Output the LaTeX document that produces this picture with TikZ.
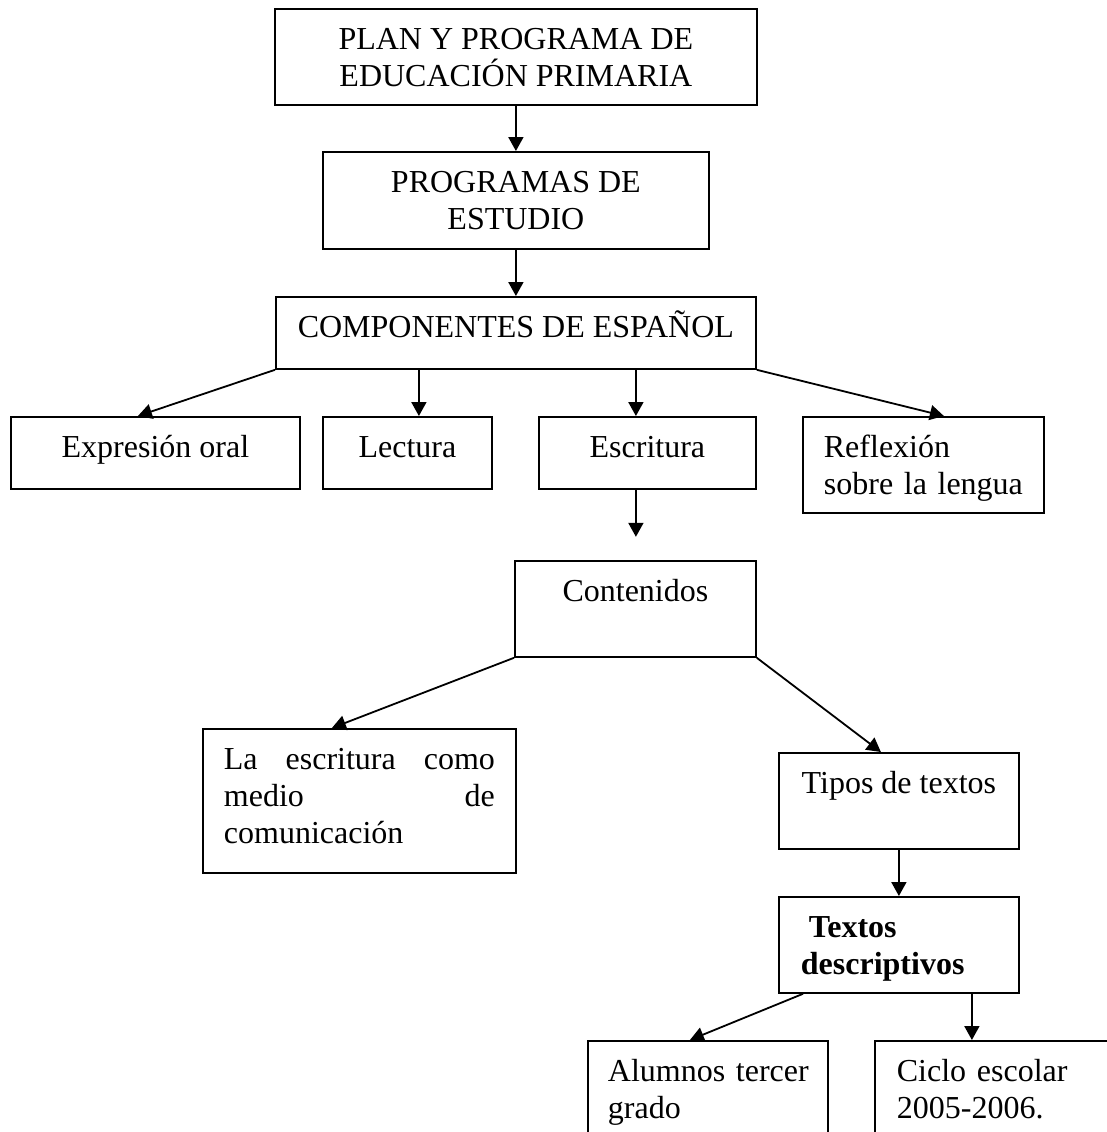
\documentclass[tikz,border=0pt]{standalone}
\usepackage{fontspec}
\setmainfont{Liberation Serif}
\usepackage{tikz}
\usetikzlibrary{positioning,arrows.meta,calc}
\newcommand{\letra}{\fontsize{16pt}{18.5pt}\selectfont}

\begin{document}
\begin{tikzpicture}[x=0.5pt, y=-0.5pt,
        caja/.style={draw, line width=0.9pt, inner sep=0pt, anchor=north west, font=\letra, text height=20.5pt, text depth=27.5pt},
        flecha/.style={-{Triangle[length=7pt, width=7.5pt]}, line width=0.9pt}]
        \def\u{0.5pt}
        \useasboundingbox (0,0) rectangle (1107,1132);
        \clip (0,0) rectangle (1107,1132);
        \fill[white] (0,0) rectangle (1107,1132);
        % parte superior
        \node[caja, minimum width=482*\u, text height=39pt, text depth=9pt, align=center] (plan) at (274,8) {PLAN Y PROGRAMA DE\\EDUCACIÓN PRIMARIA};
        \node[caja, minimum width=386*\u, text height=39pt, text depth=9.5pt, align=center] (programas) at (322,151) {PROGRAMAS DE\\ESTUDIO};
        \node[caja, minimum width=480*\u, text depth=15.5pt] (componentes) at (275,296) {COMPONENTES DE ESPAÑOL};
        % componentes
        \node[caja, minimum width=289*\u, text depth=15.5pt] (expresion) at (10,416) {Expresión oral};
        \node[caja, minimum width=169*\u, text depth=15.5pt] (lectura) at (322,416) {Lectura};
        \node[caja, minimum width=217*\u, text depth=15.5pt] (escritura) at (538,416) {Escritura};
        \node[caja, text width=199*\u, inner xsep=21*\u, align=left] (reflexion) at (802,416) {Reflexión\\\mbox{sobre la lengua}};
        % escritura
        \node[caja, minimum width=241*\u] (contenidos) at (514,560) {Contenidos};
        \node[caja, text width=271*\u, inner xsep=21*\u, text depth=51.5pt, align=left] (medio) at (202,728) {La\hfill escritura\hfill como\\medio\hfill de\\comunicación};
        \node[caja, minimum width=240*\u] (tipos) at (778,752) {Tipos de textos};
        \node[caja, text width=196*\u, inner xsep=22*\u, align=left, font=\letra\bfseries] (textos) at (778,896) {\hspace{0.25em}Textos\\descriptivos};
        \node[caja, text width=200*\u, inner xsep=20*\u, align=left] (alumnos) at (587,1040) {\mbox{Alumnos tercer}\\grado};
        \node[caja, text width=196*\u, inner xsep=22*\u, align=left] (ciclo) at (874,1040) {\mbox{Ciclo escolar}\\2005-2006.};

        \draw[flecha] (plan.south) -- (programas.north);
        \draw[flecha] (programas.south) -- (componentes.north);
        \draw[flecha] (componentes.south west) -- ([xshift=-17.5*\u]expresion.north);
        \coordinate (pl) at ([xshift=11.5*\u]lectura.north);
        \draw[flecha] (pl |- componentes.south) -- (pl);
        \coordinate (pe) at ([xshift=-11.5*\u]escritura.north);
        \draw[flecha] (pe |- componentes.south) -- (pe);
        \draw[flecha] (componentes.south east) -- ([xshift=20.5*\u]reflexion.north);
        \coordinate (pc) at ([xshift=-11.5*\u, yshift=-23.5pt]escritura.south);
        \draw[flecha] (pc |- escritura.south) -- (pc);
        \draw[flecha] (contenidos.south west) -- ([xshift=-27.5*\u]medio.north);
        \draw[flecha] (contenidos.south east) -- ([xshift=-18*\u]tipos.north);
        \draw[flecha] (tipos.south) -- (textos.north);
        \draw[flecha] ([xshift=25*\u]textos.south west) -- ([xshift=-18*\u]alumnos.north);
        \coordinate (pcl) at ([xshift=-23*\u]ciclo.north);
        \draw[flecha] (pcl |- textos.south) -- (pcl);
    \end{tikzpicture}
\end{document}
